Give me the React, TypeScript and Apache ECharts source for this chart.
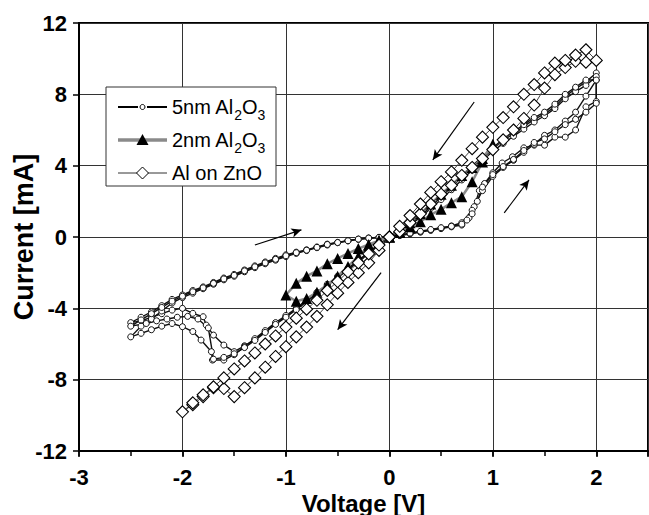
import React, { useEffect, useRef } from "react";
import * as echarts from "echarts";

// ---------- axes ----------
const X_MIN = -3;
const X_MAX = 2.5;
const X_STEP = 1;
const Y_MIN = -12;
const Y_MAX = 12;
const Y_STEP = 4;

// ---------- 5nm Al2O3 (three measured cycles) ----------
const FIVE_A_POS_FWD = [[0,0],[0.1,0.08],[0.2,0.17],[0.3,0.27],[0.4,0.37],[0.5,0.47],[0.6,0.57],[0.7,0.67],[0.77,1.07],[0.82,1.7],[0.87,2.6],[0.92,3.0],[1.0,3.6],[1.09,4.15],[1.19,4.5],[1.3,5.0],[1.4,5.15],[1.5,5.15],[1.6,5.6],[1.7,5.6],[1.8,6.0],[1.9,7.3],[2.0,7.6],[2.0,9.2]];
const FIVE_A_POS_RET = [[1.9,8.7],[1.8,8.3],[1.7,7.9],[1.6,7.3],[1.5,6.9],[1.4,6.6],[1.3,6.2],[1.2,5.8],[1.1,5.4],[1.0,4.95],[0.9,4.45],[0.8,3.9],[0.7,3.35],[0.6,2.8],[0.5,2.25],[0.4,1.7],[0.3,1.2],[0.2,0.75],[0.1,0.35],[0,0]];
const FIVE_A_NEG_FWD = [[-0.1,-0.45],[-0.2,-0.9],[-0.3,-1.35],[-0.4,-1.8],[-0.5,-2.25],[-0.6,-2.7],[-0.7,-3.15],[-0.8,-3.6],[-0.9,-4.05],[-1.0,-4.47],[-1.1,-4.85],[-1.2,-5.3],[-1.3,-5.75],[-1.4,-6.1],[-1.5,-6.43],[-1.6,-6.06],[-1.7,-5.5],[-1.77,-4.94],[-1.8,-4.47],[-1.9,-4.28],[-2.0,-4.0],[-2.1,-4.1],[-2.2,-4.3],[-2.3,-4.5],[-2.4,-4.7],[-2.5,-4.8]];
const FIVE_A_NEG_RET = [[-2.4,-4.5],[-2.3,-4.2],[-2.2,-3.85],[-2.1,-3.5],[-2.0,-3.25],[-1.9,-3.0],[-1.8,-2.8],[-1.7,-2.55],[-1.6,-2.3],[-1.5,-2.1],[-1.4,-1.85],[-1.3,-1.62],[-1.2,-1.4],[-1.1,-1.2],[-1.0,-1.0],[-0.9,-0.85],[-0.8,-0.72],[-0.7,-0.56],[-0.6,-0.4],[-0.5,-0.3],[-0.4,-0.2],[-0.3,-0.12],[-0.2,-0.06],[-0.1,-0.02],[0,0]];

const FIVE_B_POS_FWD = [[0,0],[0.1,0.1],[0.2,0.2],[0.3,0.3],[0.4,0.4],[0.5,0.5],[0.6,0.62],[0.7,0.8],[0.8,1.5],[0.9,2.6],[1.0,3.4],[1.1,3.9],[1.2,4.3],[1.3,4.75],[1.4,5.2],[1.5,5.7],[1.6,6.0],[1.7,6.5],[1.8,7.0],[1.9,7.9],[2.0,8.8],[2.0,9.0]];
const FIVE_B_POS_RET = [[1.9,8.5],[1.8,8.15],[1.7,7.75],[1.6,7.2],[1.5,6.8],[1.4,6.45],[1.3,6.05],[1.2,5.65],[1.1,5.25],[1.0,4.8],[0.9,4.3],[0.8,3.75],[0.7,3.2],[0.6,2.65],[0.5,2.1],[0.4,1.6],[0.3,1.1],[0.2,0.68],[0.1,0.3],[0,0]];
const FIVE_B_NEG_FWD = [[-0.1,-0.4],[-0.2,-0.85],[-0.3,-1.3],[-0.4,-1.75],[-0.5,-2.2],[-0.6,-2.65],[-0.7,-3.1],[-0.8,-3.55],[-0.9,-4.0],[-1.0,-4.4],[-1.1,-4.8],[-1.2,-5.25],[-1.3,-5.7],[-1.4,-6.15],[-1.5,-6.6],[-1.6,-6.9],[-1.71,-6.9],[-1.72,-6.43],[-1.82,-5.78],[-1.9,-5.3],[-2.0,-5.03],[-2.1,-4.85],[-2.2,-5.0],[-2.3,-5.2],[-2.4,-5.4],[-2.5,-5.6]];
const FIVE_B_NEG_RET = [[-2.4,-5.0],[-2.3,-4.6],[-2.2,-4.15],[-2.1,-3.7],[-2.0,-3.4],[-1.9,-3.15],[-1.8,-2.9],[-1.7,-2.65],[-1.6,-2.4],[-1.5,-2.2],[-1.4,-1.95],[-1.3,-1.72],[-1.2,-1.5],[-1.1,-1.3],[-1.0,-1.1],[-0.9,-0.92],[-0.8,-0.76],[-0.7,-0.6],[-0.6,-0.45],[-0.5,-0.32],[-0.4,-0.22],[-0.3,-0.13],[-0.2,-0.07],[-0.1,-0.03],[0,0]];

const FIVE_C_POS_FWD = [[0,0],[0.1,0.12],[0.2,0.22],[0.3,0.32],[0.4,0.42],[0.5,0.52],[0.6,0.6],[0.7,0.72],[0.75,0.95],[0.8,1.3],[0.85,2.0],[0.9,2.8],[1.0,3.5],[1.1,3.95],[1.2,4.35],[1.3,4.85],[1.4,5.3],[1.5,5.5],[1.6,5.9],[1.7,6.3],[1.8,6.6],[1.9,7.0],[2.0,7.5],[2.0,8.8]];
const FIVE_C_POS_RET = [[1.9,8.8],[1.8,8.4],[1.7,8.0],[1.6,7.45],[1.5,7.0],[1.4,6.7],[1.3,6.3],[1.2,5.9],[1.1,5.5],[1.0,5.0],[0.9,4.5],[0.8,4.0],[0.7,3.45],[0.6,2.9],[0.5,2.35],[0.4,1.8],[0.3,1.25],[0.2,0.8],[0.1,0.38],[0,0]];
const FIVE_C_NEG_FWD = [[-0.1,-0.45],[-0.2,-0.92],[-0.3,-1.38],[-0.4,-1.83],[-0.5,-2.28],[-0.6,-2.73],[-0.7,-3.18],[-0.8,-3.63],[-0.9,-4.08],[-1.0,-4.5],[-1.1,-4.9],[-1.2,-5.35],[-1.3,-5.8],[-1.4,-6.2],[-1.5,-6.55],[-1.6,-6.75],[-1.7,-6.85],[-1.75,-5.1],[-1.85,-4.6],[-1.95,-4.45],[-2.05,-4.5],[-2.15,-4.6],[-2.25,-4.7],[-2.35,-4.85],[-2.5,-5.0]];
const FIVE_C_NEG_RET = [[-2.4,-4.65],[-2.3,-4.3],[-2.2,-3.95],[-2.1,-3.6],[-2.0,-3.32],[-1.9,-3.07],[-1.8,-2.85],[-1.7,-2.6],[-1.6,-2.35],[-1.5,-2.15],[-1.4,-1.9],[-1.3,-1.67],[-1.2,-1.45],[-1.1,-1.25],[-1.0,-1.05],[-0.9,-0.88],[-0.8,-0.74],[-0.7,-0.58],[-0.6,-0.42],[-0.5,-0.31],[-0.4,-0.21],[-0.3,-0.12],[-0.2,-0.06],[-0.1,-0.02],[0,0]];

// ---------- 2nm Al2O3 ----------
const TWO_NEG_FWD = [[0,0],[-0.1,-0.2],[-0.2,-0.5],[-0.3,-1.1],[-0.4,-1.65],[-0.5,-2.2],[-0.6,-2.7],[-0.7,-3.1],[-0.8,-3.45],[-0.9,-3.6],[-1.0,-3.25]];
const TWO_NEG_RET = [[-0.9,-2.6],[-0.8,-2.2],[-0.7,-1.9],[-0.6,-1.5],[-0.5,-1.2],[-0.4,-0.92],[-0.3,-0.65],[-0.2,-0.42],[-0.1,-0.2],[0,0]];
const TWO_POS_FWD = [[0.1,0.25],[0.2,0.58],[0.3,0.86],[0.4,1.25],[0.5,1.55],[0.6,1.92],[0.7,2.26],[0.8,3.1],[0.9,4.2],[1.0,5.2]];
const TWO_POS_RET = [[0.9,4.4],[0.8,3.9],[0.7,3.45],[0.6,2.9],[0.5,2.4],[0.4,1.85],[0.3,1.3],[0.2,0.8],[0.1,0.3],[0,0]];

// ---------- Al on ZnO ----------
const ZNO_POS_FWD = [[0,0],[0.1,0.3],[0.2,0.8],[0.3,1.3],[0.4,1.85],[0.5,2.4],[0.6,2.9],[0.7,3.45],[0.8,3.9],[0.9,4.4],[1.0,4.9],[1.1,5.45],[1.2,6.0],[1.3,6.65],[1.4,7.4],[1.5,8.35],[1.6,9.1],[1.7,9.5],[1.8,9.85],[1.9,9.8],[2.0,9.9]];
const ZNO_POS_RET = [[1.9,10.5],[1.8,10.2],[1.7,9.9],[1.6,9.75],[1.5,9.2],[1.4,8.55],[1.3,8.0],[1.2,7.3],[1.1,6.7],[1.0,6.15],[0.9,5.6],[0.8,4.95],[0.7,4.3],[0.6,3.65],[0.5,3.1],[0.4,2.5],[0.3,1.85],[0.2,1.2],[0.1,0.6],[0,0]];
const ZNO_NEG_FWD = [[-0.1,-0.75],[-0.2,-1.45],[-0.3,-2.0],[-0.4,-2.55],[-0.5,-3.15],[-0.6,-3.8],[-0.7,-4.45],[-0.8,-5.05],[-0.9,-5.6],[-1.0,-6.15],[-1.1,-6.7],[-1.2,-7.3],[-1.3,-7.9],[-1.4,-8.45],[-1.5,-8.95],[-1.6,-8.5],[-1.7,-8.45],[-1.8,-8.95],[-1.9,-9.4],[-2.0,-9.8]];
const ZNO_NEG_RET = [[-1.9,-9.3],[-1.8,-8.85],[-1.7,-8.4],[-1.6,-7.9],[-1.5,-7.4],[-1.4,-6.95],[-1.3,-6.5],[-1.2,-6.0],[-1.1,-5.55],[-1.0,-5.05],[-0.9,-4.55],[-0.8,-4.05],[-0.7,-3.55],[-0.6,-3.0],[-0.5,-2.5],[-0.4,-1.95],[-0.3,-1.45],[-0.2,-0.95],[-0.1,-0.45],[0,0]];

// ---------- sweep-direction arrows [from, to] in data units ----------
const ARROWS = [
  [[-1.3, -0.45], [-0.85, 0.4]],
  [[0.82, 7.57], [0.42, 4.32]],
  [[1.11, 1.35], [1.35, 3.2]],
  [[-0.08, -2.0], [-0.5, -5.2]],
];

const LEGEND_LABELS = ["5nm Al{s|2}O{s|3}", "2nm Al{s|2}O{s|3}", "Al on ZnO"];
const SERIES_NAMES = ["5nm Al2O3", "2nm Al2O3", "Al on ZnO"];

const FONT = "'Liberation Sans', Arial, sans-serif";

function fiveSeries(data: number[][]) {
  return {
    name: SERIES_NAMES[0],
    type: "line",
    data,
    symbol: "circle",
    symbolSize: 6,
    showSymbol: true,
    lineStyle: { color: "#111", width: 1.4 },
    itemStyle: { color: "#fff", borderColor: "#111", borderWidth: 1 },
    emphasis: { disabled: true },
    z: 2,
  };
}

export default function App() {
  const ref = useRef<HTMLDivElement>(null);
  useEffect(() => {
    const chart = echarts.init(ref.current!, null, { renderer: "svg" });

    const fiveA = [...FIVE_A_POS_FWD, ...FIVE_A_POS_RET, ...FIVE_A_NEG_FWD, ...FIVE_A_NEG_RET];
    const fiveB = [...FIVE_B_POS_FWD, ...FIVE_B_POS_RET, ...FIVE_B_NEG_FWD, ...FIVE_B_NEG_RET];
    const fiveC = [...FIVE_C_POS_FWD, ...FIVE_C_POS_RET, ...FIVE_C_NEG_FWD, ...FIVE_C_NEG_RET];
    const two = [...TWO_NEG_FWD, ...TWO_NEG_RET, ...TWO_POS_FWD, ...TWO_POS_RET];
    const zno = [...ZNO_POS_FWD, ...ZNO_POS_RET, ...ZNO_NEG_FWD, ...ZNO_NEG_RET];

    const rowY = [107, 140, 173];
    const legendGraphics: any[] = [
      {
        type: "rect",
        shape: { x: 106, y: 87, width: 170, height: 99 },
        style: { fill: "#fff", stroke: "#333", lineWidth: 1 },
        z: 100,
      },
    ];
    legendGraphics.push(
      { type: "line", shape: { x1: 118, y1: rowY[0], x2: 138, y2: rowY[0] }, style: { stroke: "#000", lineWidth: 2 }, z: 101 },
      { type: "line", shape: { x1: 147, y1: rowY[0], x2: 167, y2: rowY[0] }, style: { stroke: "#000", lineWidth: 2 }, z: 101 },
      { type: "circle", shape: { cx: 142.5, cy: rowY[0], r: 2.5 }, style: { fill: "#fff", stroke: "#000", lineWidth: 1 }, z: 102 },
      { type: "line", shape: { x1: 118, y1: rowY[1], x2: 167, y2: rowY[1] }, style: { stroke: "#8a8a8a", lineWidth: 3.5 }, z: 101 },
      { type: "polygon", shape: { points: [[142.5, rowY[1] - 6], [136.5, rowY[1] + 5], [148.5, rowY[1] + 5]] }, style: { fill: "#000" }, z: 102 },
      { type: "line", shape: { x1: 118, y1: rowY[2], x2: 167, y2: rowY[2] }, style: { stroke: "#333", lineWidth: 1 }, z: 101 },
      { type: "polygon", shape: { points: [[142.5, rowY[2] - 6], [148.5, rowY[2]], [142.5, rowY[2] + 6], [136.5, rowY[2]]] }, style: { fill: "#fff", stroke: "#000", lineWidth: 1 }, z: 102 },
    );
    LEGEND_LABELS.forEach((t, i) => {
      legendGraphics.push({
        type: "text",
        x: 172,
        y: rowY[i],
        z: 102,
        style: {
          text: t,
          fill: "#000",
          fontFamily: FONT,
          fontSize: 20,
          verticalAlign: "middle",
          align: "left",
          rich: {
            s: { fontSize: 14, fontFamily: FONT, fill: "#000", padding: [16, 0, 0, 0] },
          },
        },
      });
    });

    const axisLabelStyle = { fontFamily: FONT, fontWeight: "bold", fontSize: 22, color: "#000" };

    chart.setOption({
      animation: false,
      backgroundColor: "#fff",
      grid: {
        left: 79, right: 1, top: 23, bottom: 64,
        containLabel: false,
        outerBoundsMode: "none",
        show: true, borderColor: "#000", borderWidth: 2, backgroundColor: "transparent",
      },
      xAxis: [
        {
          type: "value",
          min: X_MIN,
          max: X_MAX,
          interval: X_STEP,
          name: "Voltage [V]",
          nameLocation: "middle",
          nameGap: 40,
          nameMoveOverlap: false,
          nameTextStyle: { fontFamily: FONT, fontWeight: "bold", fontSize: 24, color: "#000" },
          axisLine: { show: true, onZero: false, lineStyle: { color: "#000", width: 2 } },
          axisTick: { show: true, inside: false, length: 6, lineStyle: { color: "#000", width: 1.5 } },
          splitLine: { show: true, lineStyle: { color: "#333", width: 1 } },
          axisLabel: { ...axisLabelStyle, margin: 15, formatter: (v: number) => (v === X_MAX ? "" : String(v)) },
        },
        {
          type: "value",
          min: X_MIN,
          max: X_MAX,
          interval: X_STEP / 2,
          position: "bottom",
          axisLine: { show: false, onZero: false },
          axisTick: { show: true, inside: false, length: 5, lineStyle: { color: "#000", width: 1.5 } },
          splitLine: { show: false },
          axisLabel: { show: false },
        },
      ],
      yAxis: {
        type: "value",
        min: Y_MIN,
        max: Y_MAX,
        interval: Y_STEP,
        name: "Current [mA]",
        nameLocation: "middle",
        nameGap: 42,
        nameMoveOverlap: false,
        nameRotate: 90,
        nameTextStyle: { fontFamily: FONT, fontWeight: "bold", fontSize: 27, color: "#000" },
        axisLine: { show: true, onZero: false, lineStyle: { color: "#000", width: 2 } },
        axisTick: { show: true, inside: false, length: 6, lineStyle: { color: "#000", width: 1.5 } },
        splitLine: { show: true, lineStyle: { color: "#333", width: 1 } },
        axisLabel: { ...axisLabelStyle, margin: 12 },
      },
      series: [
        fiveSeries(fiveA),
        fiveSeries(fiveB),
        fiveSeries(fiveC),
        {
          name: SERIES_NAMES[1],
          type: "line",
          data: two,
          symbol: "triangle",
          symbolSize: 11,
          lineStyle: { color: "#8a8a8a", width: 2.5 },
          itemStyle: { color: "#000", borderColor: "#000", borderWidth: 0 },
          emphasis: { disabled: true },
          z: 3,
        },
        {
          name: SERIES_NAMES[2],
          type: "line",
          data: zno,
          symbol: "diamond",
          symbolSize: 12,
          lineStyle: { color: "#444", width: 1 },
          itemStyle: { color: "#fff", borderColor: "#000", borderWidth: 1.1 },
          emphasis: { disabled: true },
          z: 4,
          markLine: {
            silent: true,
            symbol: ["none", "arrow"],
            symbolSize: [7, 10],
            label: { show: false },
            lineStyle: { color: "#000", width: 1.2, type: "solid" },
            emphasis: { disabled: true },
            data: ARROWS.map(([a, b]) => [{ coord: a }, { coord: b }]),
          },
        },
      ],
      graphic: legendGraphics,
    });
    return () => chart.dispose();
  }, []);
  return <div ref={ref} style={{ position: "fixed", left: 0, top: 0, width: 649, height: 515, background: "#fff" }} />;
}
